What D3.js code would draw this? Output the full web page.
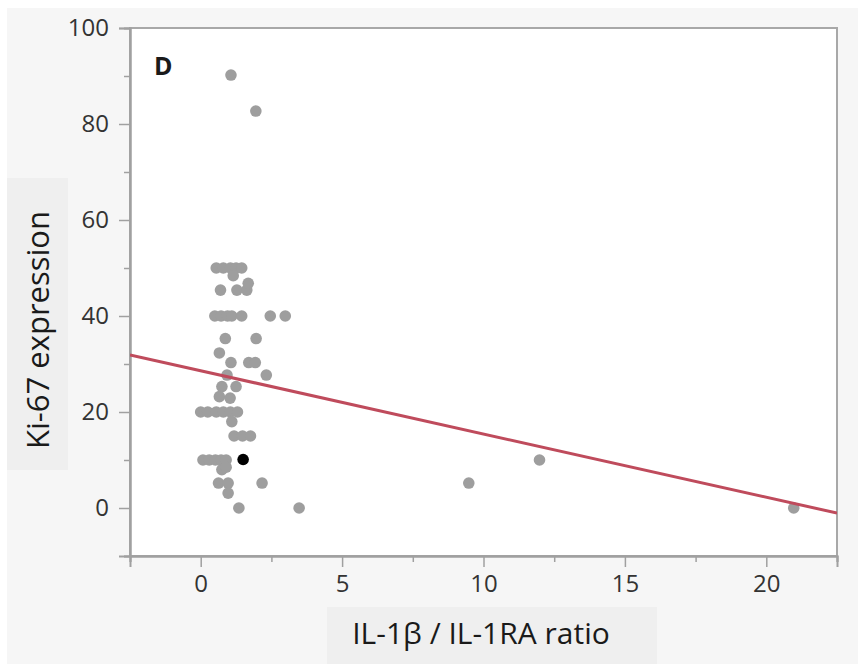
<!DOCTYPE html>
<html>
<head>
<meta charset="utf-8">
<script src="https://cdn.jsdelivr.net/npm/d3@7"></script>
<style>
  html, body { margin: 0; padding: 0; background: #ffffff; }
  svg { display: block; }
</style>
</head>
<body>
<svg id="chart" width="858" height="664"></svg>
<script>
// ---- data ----
const ratioValues = [
  0.55, 0.8, 1.05, 1.25, 1.45,
  1.15,
  0.7, 1.28, 1.63, 1.68,
  0.5, 0.72, 0.95, 1.1, 1.45, 2.46, 2.99,
  0.87, 1.96,
  0.66,
  1.07, 1.7, 1.93,
  0.93, 2.32,
  0.75, 1.25,
  0.66, 1.04,
  0.0, 0.25, 0.55, 0.8, 1.05, 1.3,
  1.1,
  1.18, 1.48, 1.76,
  0.08, 0.3, 0.52, 0.72, 0.9,
  0.75, 0.9,
  0.63, 0.97, 2.17,
  0.97,
  1.35, 3.48,
  1.07, 1.95,
  9.48, 11.98, 20.97
];
const ki67Values = [
  50, 50, 50, 50, 50,
  48.4,
  45.4, 45.4, 45.4, 46.8,
  40, 40, 40, 40, 40, 40, 40,
  35.3, 35.3,
  32.3,
  30.3, 30.3, 30.3,
  27.7, 27.7,
  25.3, 25.3,
  23.2, 22.9,
  20, 20, 20, 20, 20, 20,
  18,
  15, 15, 15,
  10, 10, 10, 10, 10,
  8, 8.5,
  5.2, 5.2, 5.2,
  3.1,
  0, 0,
  90.2, 82.7,
  5.2, 10, 0
];
const highlightRatio = [1.5];
const highlightKi67 = [10.1];

const fitIntercept = 28.6;
const fitSlope = -1.318;

const xTicks = [0, 5, 10, 15, 20];
const xMinorTicks = [-2.5, 2.5, 7.5, 12.5, 17.5, 22.5];
const yTicks = [0, 20, 40, 60, 80, 100];
const yMinorTicks = [-10, 10, 30, 50, 70, 90];

const xTitle = "IL-1β / IL-1RA ratio";
const yTitle = "Ki-67 expression";
const panelLabel = "D";

// ---- layout ----
const W = 858, H = 664;
const mLeft = 130, mTop = 28, mRight = 837, mBottom = 556;
const FONT = "'Open Sans', 'Noto Sans', sans-serif";

const svg = d3.select("#chart");

svg.append("rect").attr("x", 0).attr("y", 0).attr("width", W).attr("height", H).attr("fill", "#ffffff");
svg.append("rect").attr("x", 7).attr("y", 8).attr("width", W - 7).attr("height", H - 8).attr("fill", "#f6f6f6");

// title boxes
svg.append("rect").attr("x", 7).attr("y", 178).attr("width", 61).attr("height", 292).attr("fill", "#efefef");
svg.append("rect").attr("x", 327).attr("y", 607).attr("width", 330).attr("height", 57).attr("fill", "#efefef");

// plot area
svg.append("rect").attr("x", mLeft).attr("y", mTop).attr("width", mRight - mLeft).attr("height", mBottom - mTop).attr("fill", "#ffffff");

const x = d3.scaleLinear().domain([-2.5, 22.5]).range([mLeft, mRight]);
const y = d3.scaleLinear().domain([-10, 100]).range([mBottom, mTop]);

// frame
svg.append("rect").attr("x", mLeft).attr("y", mTop).attr("width", mRight - mLeft).attr("height", mBottom - mTop)
  .attr("fill", "none").attr("stroke", "#a8a8a8").attr("stroke-width", 2);

// axes
const axisColor = "#a0a0a0";
const gx = svg.append("g").attr("transform", `translate(0,${mBottom})`)
  .call(d3.axisBottom(x).tickValues(xTicks).tickSize(11).tickPadding(8).tickFormat(d3.format("d")));
const gxm = svg.append("g").attr("transform", `translate(0,${mBottom})`)
  .call(d3.axisBottom(x).tickValues(xMinorTicks).tickSize(6).tickFormat(""));
const gy = svg.append("g").attr("transform", `translate(${mLeft},0)`)
  .call(d3.axisLeft(y).tickValues(yTicks).tickSize(11).tickPadding(10).tickFormat(d3.format("d")));
const gym = svg.append("g").attr("transform", `translate(${mLeft},0)`)
  .call(d3.axisLeft(y).tickValues(yMinorTicks).tickSize(6).tickFormat(""));

[gx, gxm, gy, gym].forEach(g => {
  g.select(".domain").attr("stroke", axisColor).attr("stroke-width", 2);
  g.selectAll(".tick line").attr("stroke", axisColor).attr("stroke-width", 1.5);
  g.selectAll(".tick text").attr("fill", "#333333").style("font-family", FONT).style("font-size", "24px");
});

const plot = svg.append("g");
plot.append("clipPath").attr("id", "clip").append("rect")
  .attr("x", mLeft).attr("y", mTop).attr("width", mRight - mLeft).attr("height", mBottom - mTop);

// points
const pts = ratioValues.map((v, i) => ({ r: v, k: ki67Values[i] }));
plot.append("g").selectAll("circle").data(pts).join("circle")
  .attr("cx", d => x(d.r)).attr("cy", d => y(d.k)).attr("r", 5.8)
  .attr("fill", "#9e9e9e");

// regression line
const fitX = x.domain();
plot.append("line")
  .attr("clip-path", "url(#clip)")
  .attr("x1", x(fitX[0])).attr("y1", y(fitIntercept + fitSlope * fitX[0]))
  .attr("x2", x(fitX[1])).attr("y2", y(fitIntercept + fitSlope * fitX[1]))
  .attr("stroke", "#bf4b5c").attr("stroke-width", 3);

plot.append("g").selectAll("circle").data(highlightRatio.map((v, i) => ({ r: v, k: highlightKi67[i] }))).join("circle")
  .attr("cx", d => x(d.r)).attr("cy", d => y(d.k)).attr("r", 5.8)
  .attr("fill", "#000000");

// panel label
svg.append("text").attr("x", 154).attr("y", 75).text(panelLabel)
  .style("font-family", FONT).style("font-weight", "bold").style("font-size", "25px").attr("fill", "#1a1a1a");

// titles
svg.append("text").attr("x", 481).attr("y", 644).attr("text-anchor", "middle").text(xTitle)
  .style("font-family", FONT).style("font-size", "30px").attr("fill", "#1a1a1a");
svg.append("text").attr("transform", "translate(49,330) rotate(-90)").attr("text-anchor", "middle").text(yTitle)
  .style("font-family", FONT).style("font-size", "31px").attr("fill", "#1a1a1a");
</script>
</body>
</html>
